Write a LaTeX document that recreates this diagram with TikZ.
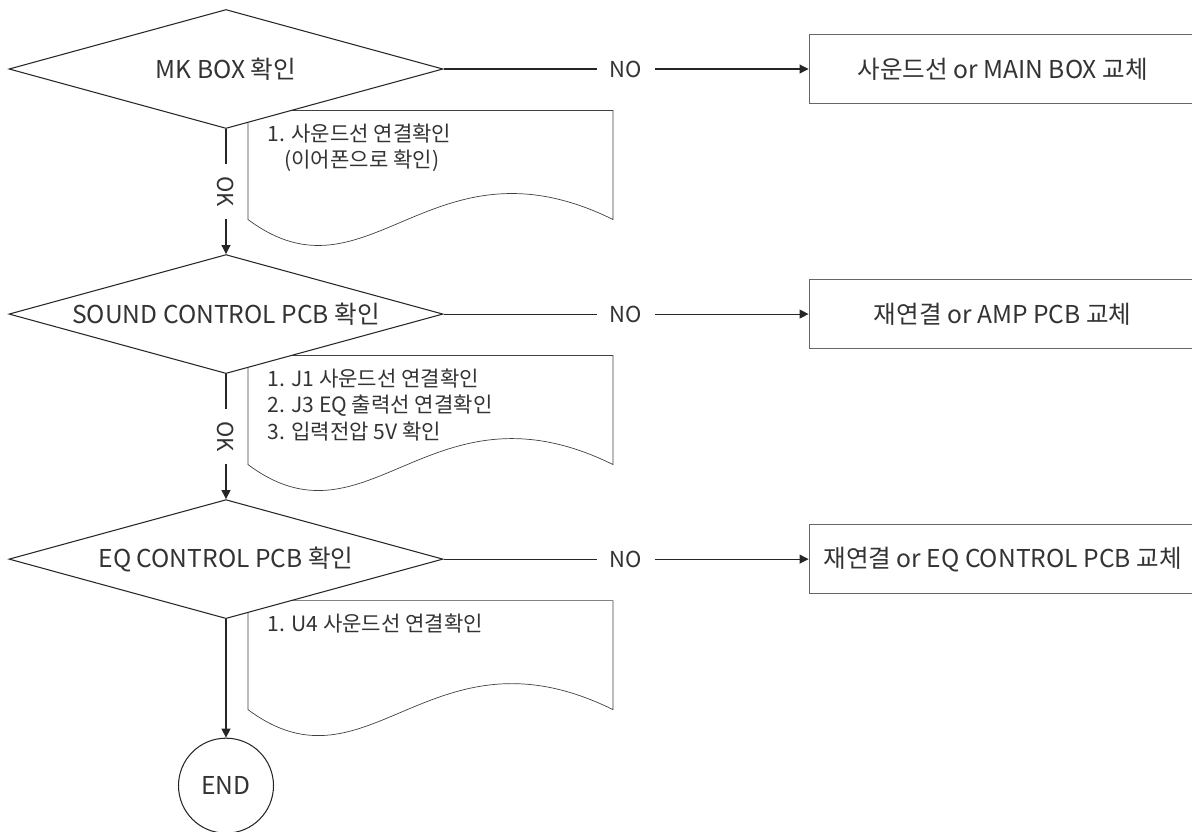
\documentclass[tikz,border=0pt]{standalone}
\usepackage{fontspec}
\setmainfont{Noto Sans CJK KR}
\usepackage{tikz}
\usetikzlibrary{arrows.meta,positioning,shapes.geometric,backgrounds}
\newcommand{\flowfont}{\fontsize{14pt}{17pt}\selectfont}
\newcommand{\notefont}{\fontsize{12pt}{15.2pt}\selectfont}
\newcommand{\answerfont}{\fontsize{12.5pt}{15pt}\selectfont}
\tikzset{
  checkblock/.style={
    draw,
    diamond,
    aspect=3.65,
    inner sep=0pt,
    minimum width=8.68cm,
    minimum height=2.38cm,
    fill=white
  },
  fixblock/.style={
    draw=black!60,
    rectangle,
    minimum width=7.74cm,
    minimum height=1.38cm
  },
  endblock/.style={
    draw,
    circle,
    inner sep=0pt,
    minimum size=1.9cm
  },
  notepaper/.style={draw=black!75},
  notetext/.style={align=left, anchor=north west, inner sep=0pt, font=\notefont},
  answerlabel/.style={fill=white, inner xsep=0.25cm, inner ysep=1pt, font=\answerfont},
  flowarrow/.style={-{Triangle[length=1.8mm, width=1.8mm]}}
}

\begin{document}
\begin{tikzpicture}[node distance=2.5cm, line width=0.6pt, draw=black!85, text=black!80, font=\flowfont]
\useasboundingbox (0,0) rectangle (23.84,-16.62);

\node[checkblock] (mkbox) at (4.52,-1.38) {MK BOX 확인};
\node[checkblock, below=of mkbox] (sound) {SOUND CONTROL PCB 확인};
\node[checkblock, below=of sound] (eqctl) {EQ CONTROL PCB 확인};
\node[endblock, below=2.37cm of eqctl] (finish) {END};

\node[fixblock, right=7.3cm of mkbox] (mkfix) {사운드선 or MAIN BOX 교체};
\node[fixblock, right=7.3cm of sound] (soundfix) {재연결 or AMP PCB 교체};
\node[fixblock, right=7.3cm of eqctl] (eqfix) {재연결 or EQ CONTROL PCB 교체};

% note sheets sit behind the diamonds
\begin{scope}[on background layer]
\foreach \d in {mkbox,sound,eqctl}{
  \draw[notepaper, shift={(\d.center)}] (0.44,-0.83) -- (0.44,-3.01)
    .. controls (2.85,-4.81) and (4.09,-1.21) .. (7.74,-3.01) -- (7.74,-0.83) -- cycle;
}
\end{scope}

\node[notetext] (mknote) at ([xshift=0.82cm, yshift=-1.08cm]mkbox.center) {1. 사운드선 연결확인\\\hspace*{0.8em}(이어폰으로 확인)};
\node[notetext] (soundnote) at ([xshift=0.82cm, yshift=-1.08cm]sound.center) {1. J1 사운드선 연결확인\\2. J3 EQ 출력선 연결확인\\3. 입력전압 5V 확인};
\node[notetext] (eqnote) at ([xshift=0.82cm, yshift=-1.08cm]eqctl.center) {1. U4 사운드선 연결확인};

\draw[flowarrow] (mkbox) -- node[answerlabel] {NO} (mkfix);
\draw[flowarrow] (sound) -- node[answerlabel] {NO} (soundfix);
\draw[flowarrow] (eqctl) -- node[answerlabel] {NO} (eqfix);

\draw[flowarrow] (mkbox) -- node[answerlabel, rotate=-90] {OK} (sound);
\draw[flowarrow] (sound) -- node[answerlabel, rotate=-90] {OK} (eqctl);
\draw[flowarrow] (eqctl) -- (finish);
\end{tikzpicture}
\end{document}
